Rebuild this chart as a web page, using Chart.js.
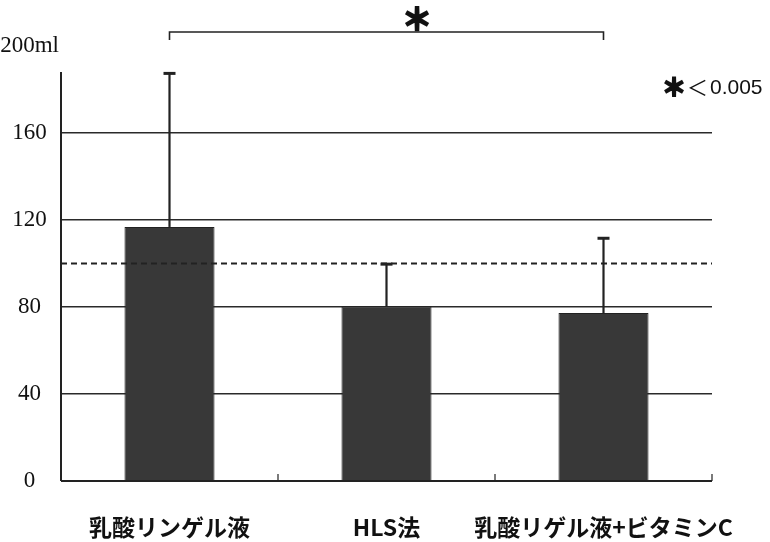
<!DOCTYPE html>
<html>
<head>
<meta charset="utf-8">
<script src="https://cdn.jsdelivr.net/npm/chart.js@4"></script>
<style>
  html, body { margin: 0; padding: 0; background: #fff; }
  #wrap { width: 770px; height: 542px; }
</style>
</head>
<body>
<div id="wrap"><canvas id="volChart"></canvas></div>
<script>
// --- data ---
const groups = ["乳酸リンゲル液", "HLS法", "乳酸リゲル液+ビタミンC"];
const means = [116.8, 80.4, 77.2];
const errTops = [187.4, 99.7, 111.6];
const yTicks = [0, 40, 80, 120, 160, 200];
const refLine = 100;
const axisTopValue = 188;
const sigMark = "＊";
const sigNote = "＜0.005";

// --- helpers ---
function tickText(v){
    return v === 200 ? "200ml" : String(v);
}

function heavyMark(ctx, x, y, size){
    ctx.font = "bold " + size + "px 'Noto Sans CJK JP'";
    ctx.lineWidth = 2.2;
    ctx.fillText(sigMark, x, y);
    ctx.strokeText(sigMark, x, y);
}

// error bars, dashed reference line, axis bits, significance bracket
const extrasPlugin = {
    id: "extras",
    afterDatasetsDraw(chart){
        const ctx = chart.ctx;
        const y = chart.scales.y;
        const area = chart.chartArea;
        ctx.save();
        ctx.strokeStyle = "#222";

        // dashed line
        ctx.lineWidth = 2;
        ctx.setLineDash([6, 4]);
        ctx.beginPath();
        ctx.moveTo(area.left, y.getPixelForValue(refLine));
        ctx.lineTo(area.right, y.getPixelForValue(refLine));
        ctx.stroke();
        ctx.setLineDash([]);

        // error bars (upper only)
        const meta = chart.getDatasetMeta(0);
        meta.data.forEach((bar, i) => {
            const top = y.getPixelForValue(errTops[i]);
            ctx.lineWidth = 2.2;
            ctx.beginPath();
            ctx.moveTo(bar.x, bar.y);
            ctx.lineTo(bar.x, top);
            ctx.stroke();
            ctx.lineWidth = 3;
            ctx.beginPath();
            ctx.moveTo(bar.x - 6, top);
            ctx.lineTo(bar.x + 6, top);
            ctx.stroke();
        });

        // y axis line (stops short of 200)
        ctx.lineWidth = 2;
        ctx.beginPath();
        ctx.moveTo(area.left, area.bottom);
        ctx.lineTo(area.left, y.getPixelForValue(axisTopValue));
        ctx.stroke();

        // x axis line + small upward ticks at category borders
        ctx.beginPath();
        ctx.moveTo(area.left, area.bottom);
        ctx.lineTo(area.right, area.bottom);
        ctx.stroke();
        ctx.lineWidth = 1.2;
        const w = (area.right - area.left) / groups.length;
        for (let i = 1; i <= groups.length; i++){
            const tx = area.left + i * w;
            ctx.beginPath();
            ctx.moveTo(tx, area.bottom);
            ctx.lineTo(tx, area.bottom - 7);
            ctx.stroke();
        }

        // significance bracket between first and last group
        const b0 = meta.data[0].x, b2 = meta.data[2].x;
        const by = area.top - 14;
        ctx.lineWidth = 1.6;
        ctx.beginPath();
        ctx.moveTo(b0, by + 8);
        ctx.lineTo(b0, by);
        ctx.lineTo(b2, by);
        ctx.lineTo(b2, by + 8);
        ctx.stroke();

        ctx.fillStyle = "#111";
        ctx.strokeStyle = "#111";
        ctx.textAlign = "center";
        ctx.textBaseline = "middle";
        heavyMark(ctx, b0 + (b2 - b0) * 0.57, by - 13, 30);

        // p-value note at right
        const ny = area.top + 41;
        heavyMark(ctx, 674, ny, 24);
        ctx.textAlign = "left";
        ctx.font = "21px 'Noto Sans CJK JP'";
        ctx.fillText(sigNote.charAt(0), 687, ny);
        ctx.font = "21px 'Liberation Sans'";
        ctx.fillText(sigNote.slice(1), 710, ny + 1);
        ctx.restore();
    }
};

// --- chart ---
let volChart = new Chart(document.getElementById("volChart").getContext("2d"), {
    type: "bar",
    data: {
        labels: groups,
        datasets: [{
            data: means,
            backgroundColor: "#383838",
            borderColor: "#222",
            borderWidth: 1,
            categoryPercentage: 1,
            barPercentage: 0.415
        }]
    },
    options: {
        responsive: true,
        maintainAspectRatio: false,
        animation: false,
        layout: { padding: { top: 46, right: 58, bottom: 0, left: 0 } },
        plugins: { legend: { display: false }, tooltip: { enabled: false } },
        scales: {
            x: {
                afterFit: s => { s.height = 61; s.paddingLeft = 0; s.paddingRight = 0; },
                grid: { display: false, drawTicks: false },
                border: { display: false },
                ticks: {
                    color: "#111",
                    padding: 32,
                    autoSkip: false,
                    maxRotation: 0,
                    minRotation: 0,
                    font: { family: "'Noto Sans CJK JP'", size: 23, weight: "bold" }
                }
            },
            y: {
                min: 0,
                max: 200,
                afterBuildTicks: s => { s.ticks = yTicks.map(v => ({ value: v })); },
                afterFit: s => { s.width = 61; },
                border: { display: false },
                grid: {
                    drawTicks: false,
                    lineWidth: 1.5,
                    color: c => (c.tick && (c.tick.value === 0 || c.tick.value === 200)) ? "rgba(0,0,0,0)" : "#2a2a2a"
                },
                ticks: {
                    color: "#111",
                    padding: 2,
                    crossAlign: "center",
                    font: { family: "'Liberation Serif'", size: 23 },
                    callback: v => tickText(v)
                }
            }
        }
    },
    plugins: [extrasPlugin]
});
</script>
</body>
</html>
